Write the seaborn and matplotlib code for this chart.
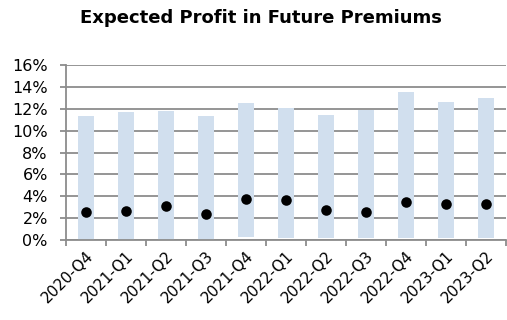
import matplotlib
matplotlib.use("Agg")
import matplotlib.pyplot as plt
import matplotlib.ticker as mticker
import matplotlib.transforms as mtransforms
import seaborn as sns
import pandas as pd

quarters = ["2020-Q4", "2021-Q1", "2021-Q2", "2021-Q3", "2021-Q4", "2022-Q1",
            "2022-Q2", "2022-Q3", "2022-Q4", "2023-Q1", "2023-Q2"]
range_low = [0.000, 0.000, 0.000, 0.000, 0.0024, 0.0021,
             0.0021, 0.0021, 0.0021, 0.0021, 0.0021]
range_high = [0.1133, 0.1172, 0.1178, 0.1133, 0.1252, 0.1206,
              0.1141, 0.1194, 0.1355, 0.1261, 0.1303]
median = [0.0253, 0.0266, 0.0308, 0.0235, 0.0372, 0.0363,
          0.0278, 0.0253, 0.0351, 0.0333, 0.0330]

df = pd.DataFrame({"quarter": quarters, "low": range_low,
                   "high": range_high, "median": median})

sns.set_theme(style="white")
plt.rcParams["font.family"] = ["DejaVu Sans"]
plt.rcParams["text.color"] = "black"
plt.rcParams["xtick.color"] = "black"
plt.rcParams["ytick.color"] = "black"

fig = plt.figure(figsize=(5.07, 3.2), dpi=100)
ax = fig.add_axes([0.130, 0.25, 0.868, 0.546])

grid_col = "#8c8c8c"
ax.set_axisbelow(True)
ax.yaxis.grid(True, color=grid_col, linewidth=1.3)

# floating range bars: low..high
sns.barplot(data=df, x="quarter", y="high", color="#d1dfee", saturation=1,
            width=0.4, ax=ax, zorder=2)
for patch, lo, hi in zip(ax.patches, range_low, range_high):
    patch.set_y(lo)
    patch.set_height(hi - lo)
    patch.set_edgecolor("none")

# median markers
sns.stripplot(data=df, x="quarter", y="median", jitter=False, color="black",
              size=7.6, ax=ax, zorder=3)

ax.set_xlim(-0.5, len(quarters) - 0.5)
ax.set_ylim(0, 0.16)
ax.yaxis.set_major_locator(mticker.MultipleLocator(0.02))
ax.yaxis.set_major_formatter(mticker.PercentFormatter(1.0, decimals=0))

ax.set_xlabel("")
ax.set_ylabel("")
ax.set_xticks(range(len(quarters)))
ax.set_xticklabels(quarters, rotation=45, ha="right", rotation_mode="anchor",
                   fontsize=11, color="black")
shift = mtransforms.ScaledTranslation(-4 / 100, 0, fig.dpi_scale_trans)
for lbl in ax.get_xticklabels():
    lbl.set_transform(lbl.get_transform() + shift)
ax.set_xticks([i + 0.5 for i in range(-1, len(quarters))], minor=True)
ax.tick_params(axis="x", which="major", length=0, pad=6)
ax.tick_params(axis="x", which="minor", length=4, width=1.3, color=grid_col,
               bottom=True)
ax.tick_params(axis="y", length=4, width=1.3, color=grid_col, left=True,
               labelsize=11.5, labelcolor="black", pad=9)

for side in ["top", "right"]:
    ax.spines[side].set_visible(False)
for side in ["left", "bottom"]:
    ax.spines[side].set_color(grid_col)
    ax.spines[side].set_linewidth(1.3)

fig.text(0.515, 0.945, "Expected Profit in Future Premiums", ha="center",
         va="center", fontsize=13, fontweight="bold", color="black")

fig.savefig("out.png", dpi=100, facecolor="white")
